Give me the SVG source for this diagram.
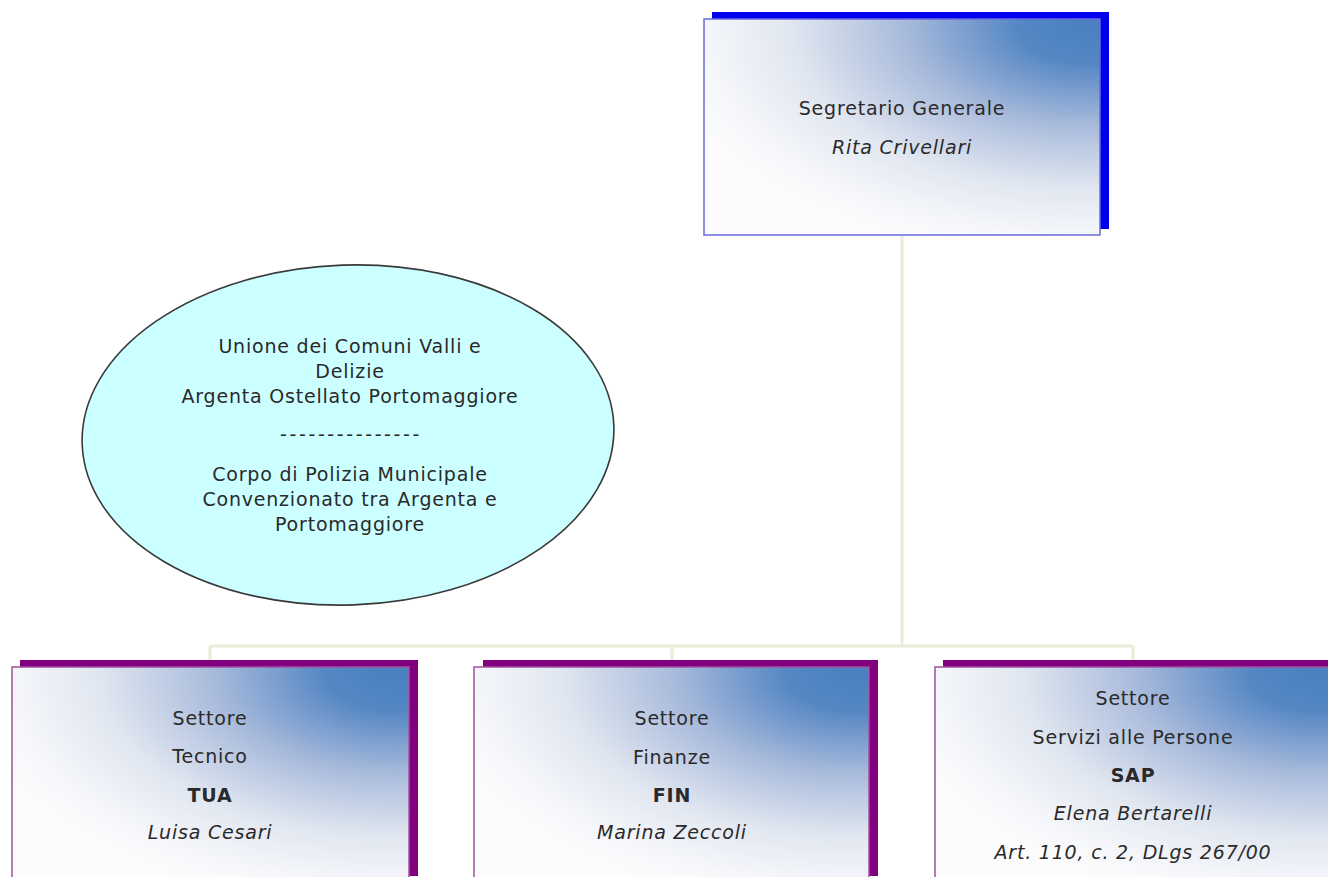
<svg xmlns="http://www.w3.org/2000/svg" width="1328" height="877" viewBox="0 0 1328 877">
<defs>
<radialGradient id="boxgrad" cx="0.97" cy="0.03" r="1.1" fx="0.97" fy="0.03">
<stop offset="0" stop-color="#4a7fc0"/>
<stop offset="0.16" stop-color="#5587c4"/>
<stop offset="0.42" stop-color="#a8badb"/>
<stop offset="0.68" stop-color="#e0e6f0"/>
<stop offset="0.9" stop-color="#f7f8fb"/>
<stop offset="1" stop-color="#fcfcfd"/>
</radialGradient>
<style>
.t{font-family:"DejaVu Sans",Verdana,sans-serif;font-size:19px;fill:#2a2a2a;text-anchor:middle;letter-spacing:0.8px}
.e{font-family:"DejaVu Sans",Verdana,sans-serif;font-size:19px;fill:#2a2a2a;text-anchor:middle;letter-spacing:0.8px}
.b{font-weight:bold}
.i{font-style:italic}
.front{fill:url(#boxgrad);stroke-width:1.5}
.top .front{stroke:#6a6ae0}
.sub .front{stroke:#a050a0}
.conn{stroke:#ecebd8;stroke-width:3;fill:none}
</style>
</defs>
<rect width="1328" height="877" fill="#ffffff"/>
<g id="connectors">
<line class="conn" x1="902" y1="236" x2="902" y2="646"/>
<line class="conn" x1="210" y1="646" x2="1133" y2="646"/>
<line class="conn" x1="210" y1="646" x2="210" y2="662"/>
<line class="conn" x1="672" y1="646" x2="672" y2="662"/>
<line class="conn" x1="1133" y1="646" x2="1133" y2="662"/>
</g>
<g id="segretario" class="top">
<rect x="712" y="12" width="397" height="217" fill="#0000ee"/>
<rect class="front" x="704" y="19" width="396" height="216"/>
<text class="t" x="902" y="115">Segretario Generale</text>
<text class="t i" x="902" y="154">Rita Crivellari</text>
</g>
<g id="unione">
<ellipse cx="348" cy="435" rx="266" ry="170" fill="#ccffff" stroke="#3a3a3a" stroke-width="1.6" transform="rotate(-2 348 435)"/>
<text class="e" x="350" y="353">Unione dei Comuni Valli e</text>
<text class="e" x="350" y="378">Delizie</text>
<text class="e" x="350" y="403">Argenta Ostellato Portomaggiore</text>
<text class="e" x="351" y="441" style="letter-spacing:2.6px">---------------</text>
<text class="e" x="350" y="481">Corpo di Polizia Municipale</text>
<text class="e" x="350" y="506">Convenzionato tra Argenta e</text>
<text class="e" x="350" y="531">Portomaggiore</text>
</g>
<g id="tua" class="sub">
<rect x="20" y="660" width="398" height="216" fill="#800080"/>
<rect class="front" x="12" y="667" width="397" height="216"/>
<text class="t" x="210" y="725">Settore</text>
<text class="t" x="210" y="763">Tecnico</text>
<text class="t b" x="210" y="802">TUA</text>
<text class="t i" x="210" y="839">Luisa Cesari</text>
</g>
<g id="fin" class="sub">
<rect x="483" y="660" width="395" height="216" fill="#800080"/>
<rect class="front" x="474" y="667" width="395" height="216"/>
<text class="t" x="672" y="725">Settore</text>
<text class="t" x="672" y="764">Finanze</text>
<text class="t b" x="672" y="802">FIN</text>
<text class="t i" x="672" y="839">Marina Zeccoli</text>
</g>
<g id="sap" class="sub">
<rect x="943" y="660" width="397" height="216" fill="#800080"/>
<rect class="front" x="935" y="667" width="397" height="216"/>
<text class="t" x="1133" y="705">Settore</text>
<text class="t" x="1133" y="744">Servizi alle Persone</text>
<text class="t b" x="1133" y="782">SAP</text>
<text class="t i" x="1133" y="820">Elena Bertarelli</text>
<text class="t i" x="1133" y="859">Art. 110, c. 2, DLgs 267/00</text>
</g>
</svg>
